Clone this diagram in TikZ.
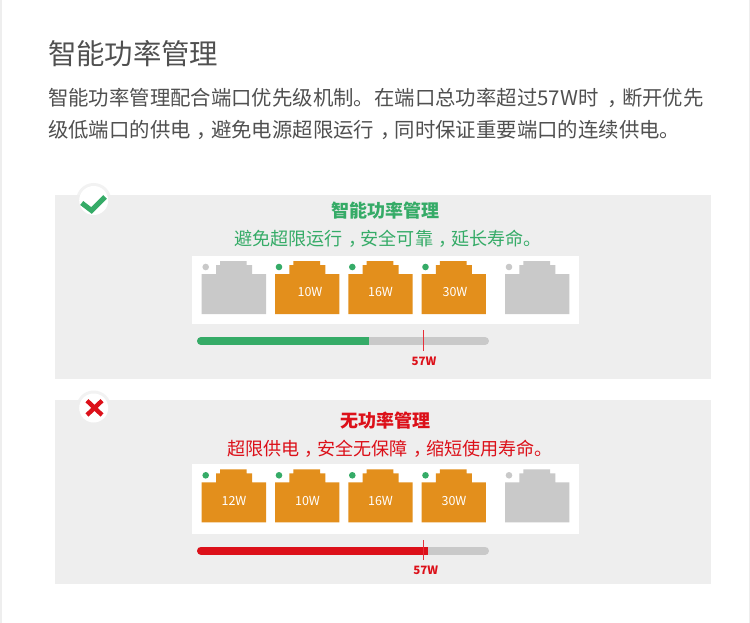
\documentclass[tikz,border=0pt]{standalone}
\usepackage{fontspec}
\setmainfont{Noto Sans CJK SC}
\definecolor{panelbg}{HTML}{EEEEEE}
\definecolor{halo}{HTML}{F2F2F2}
\definecolor{porton}{HTML}{E38F1C}
\definecolor{portoff}{HTML}{C9C9C9}
\definecolor{okgreen}{HTML}{35AB67}
\definecolor{badred}{HTML}{DC1019}
\definecolor{markred}{HTML}{E8303A}
\definecolor{inkgray}{HTML}{505050}
\newcommand\cmm{\hspace{.3em}，\hspace{-.3em}}
\tikzset{
  panel/.style={fill=panelbg,draw=none},
  strip/.style={fill=white,draw=none},
  txt/.style={inner sep=0pt,outer sep=0pt,anchor=center},
  maintitle/.style={txt,anchor=west,text=inkgray,font=\fontsize{28.4}{32}\selectfont},
  bodyline/.style={txt,anchor=west,text=inkgray,font=\fontsize{20.4}{24}\selectfont},
  headline/.style={txt,font=\fontsize{18}{22}\selectfont\bfseries},
  subline/.style={txt,anchor=west,font=\fontsize{18.1}{22}\selectfont},
  watt/.style={txt,text=white,font=\fontsize{12.5}{14}\selectfont},
  limit/.style={txt,text=badred,font=\fontsize{11.5}{14}\selectfont\bfseries},
  pics/port/.style={code={
    \fill[#1] (0,13) -- (14.3,13) -- (14.3,4) -- (18.3,4) -- (18.3,0) -- (45,0) -- (45,4)
      -- (50.3,4) -- (50.3,13) -- (64.3,13) -- (64.3,53) -- (0,53) -- cycle;
  }},
  pics/led/.style={code={\fill[#1] (4,6) circle (3.3);}},
}
\begin{document}
\begin{tikzpicture}[x=1pt,y=-1pt]
\useasboundingbox (0,0) rectangle (750,623);
\fill[white] (0,0) rectangle (750,623);
\fill[panelbg] (0,0) rectangle (1.6,623);
\fill[panelbg] (748.6,0) rectangle (750,623);

\node[maintitle] (title) at (48,54) {智能功率管理};
\node[bodyline] (line1) at (48,98) {智能功率管理配合端口优先级机制。在端口总功率超过57W时\hspace{.15em}\cmm 断开优先};
\node[bodyline] (line2) at (48,130) {级低端口的供电\cmm 避免电源超限运行\cmm 同时保证重要端口的连续供电。};

% upper panel
\fill[halo] (93.7,200.5) circle (17.5);
\fill[panel] (55,195) rectangle (711,379);
\fill[white] (93.7,200.5) circle (14.5);
\draw[okgreen,line width=5pt] (81.7,203) -- (91.5,210.5) -- (105,197);
\node[headline,text=okgreen] (h1) at (385,211) {智能功率管理};
\node[subline,text=okgreen] (s1) at (234,239) {避免超限运行\cmm 安全可靠\cmm 延长寿命。};
\fill[strip] (192,256) rectangle (579,324.3);
\path (201.7,261) pic {port=portoff} (201.7,261) pic {led=portoff};
\path (275,261) pic {port=porton} (275,261) pic {led=okgreen};
\path (348.3,261) pic {port=porton} (348.3,261) pic {led=okgreen};
\path (421.5,261) pic {port=porton} (421.5,261) pic {led=okgreen};
\path (505,261) pic {port=portoff} (505,261) pic {led=portoff};
\node[watt] (a10) at (310,292) {10W};
\node[watt] (a16) at (380.5,292) {16W};
\node[watt] (a30) at (455,292) {30W};
\draw[portoff,line width=8pt,line cap=round] (201,341) -- (485,341);
\draw[okgreen,line width=8pt,line cap=round] (201,341) -- (365,341);
\fill[okgreen] (365,337) rectangle (369,345);
\fill[markred] (422.7,330) rectangle (424,351);
\node[limit] (l1) at (424,361.5) {57W};

% lower panel
\fill[halo] (93.7,408) circle (17.5);
\fill[panel] (55,400) rectangle (711,584);
\fill[white] (93.7,408) circle (14.5);
\draw[badred,line width=4.4pt] (87,400.7) -- (102,415) (102,400.7) -- (87,415);
\node[headline,text=badred] (h2) at (385,421) {无功率管理};
\node[subline,text=badred] (s2) at (227,449) {超限供电\cmm 安全无保障\cmm 缩短使用寿命。};
\fill[strip] (192,464) rectangle (579,534);
\path (201.7,469.3) pic {port=porton} (201.7,469.3) pic {led=okgreen};
\path (275,469.3) pic {port=porton} (275,469.3) pic {led=okgreen};
\path (348.3,469.3) pic {port=porton} (348.3,469.3) pic {led=okgreen};
\path (421.5,469.3) pic {port=porton} (421.5,469.3) pic {led=okgreen};
\path (505,469.3) pic {port=portoff} (505,469.3) pic {led=portoff};
\node[watt] (b12) at (234,500.5) {12W};
\node[watt] (b10) at (307.5,500.5) {10W};
\node[watt] (b16) at (380.5,500.5) {16W};
\node[watt] (b30) at (454,500.5) {30W};
\draw[portoff,line width=8pt,line cap=round] (201,550.5) -- (485,550.5);
\draw[badred,line width=8pt,line cap=round] (201,550.5) -- (424,550.5);
\fill[badred] (424,546.5) rectangle (428,554.5);
\fill[markred] (422.7,540) rectangle (424,560);
\node[limit] (l2) at (425.7,570.7) {57W};
\end{tikzpicture}
\end{document}
